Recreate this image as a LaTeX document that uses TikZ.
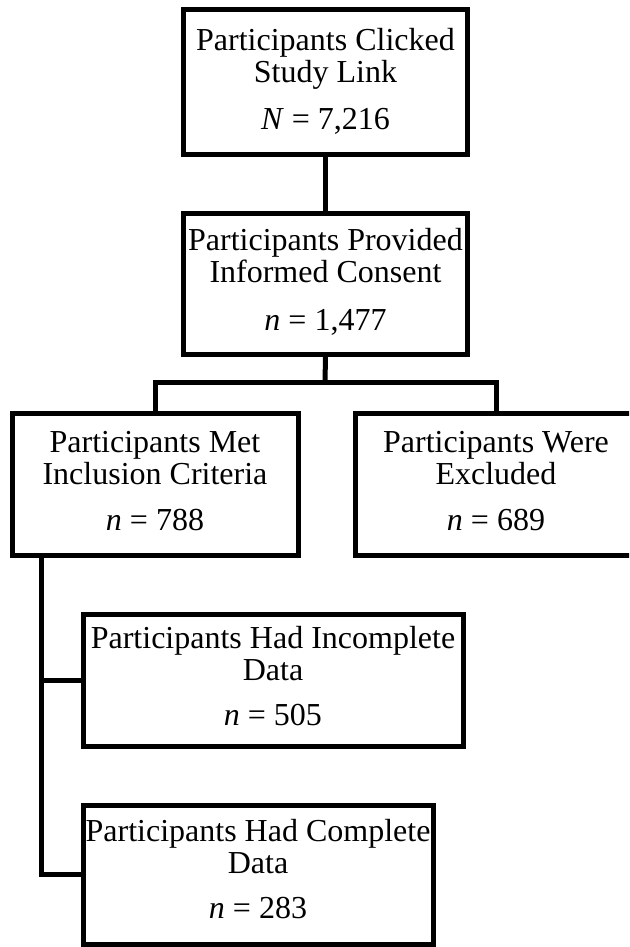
\documentclass[tikz,border=0pt]{standalone}
\usepackage{fontspec}
\setmainfont{Liberation Serif}
\begin{document}
\begin{tikzpicture}[x=0.5pt,y=-0.5pt,
  box/.style={draw=black, line width=2.5pt, rectangle, inner sep=0pt},
  lbl/.style={anchor=base, inner sep=0pt, font=\fontsize{16}{16}\selectfont},
  link/.style={draw=black, line width=2.5pt}]
\useasboundingbox (0,0) rectangle (629,947);
\clip (0,0) rectangle (629,947);
\fill[white] (0,0) rectangle (629,947);
% boxes
\node[box, minimum width=142pt, minimum height=72pt] (b1) at (325.5,82) {};
\node[box, minimum width=142pt, minimum height=70.5pt] (b2) at (325.5,283.5) {};
\node[box, minimum width=143pt, minimum height=71pt] (b3) at (155,484) {};
\node[box, minimum width=141pt, minimum height=71pt] (b4) at (496,484) {};
\node[box, minimum width=190pt, minimum height=66pt] (b5) at (273,680) {};
\node[box, minimum width=175pt, minimum height=69.5pt] (b6) at (258,874.5) {};
% texts
\node[lbl] (t1) at ([yshift=-21.5pt]b1.north) {\begin{tabular}[t]{@{}c@{}}Participants Clicked\\Study Link\\[7.5pt]\textit{N} = 7,216\end{tabular}};
\node[lbl] (t2) at ([yshift=-20pt]b2.north) {\begin{tabular}[t]{@{}c@{}}Participants Provided\\Informed Consent\\[8pt]\textit{n} = 1,477\end{tabular}};
\node[lbl] (t3) at ([yshift=-21pt]b3.north) {\begin{tabular}[t]{@{}c@{}}Participants Met\\Inclusion Criteria\\[7pt]\textit{n} = 788\end{tabular}};
\node[lbl] (t4) at ([yshift=-21pt]b4.north) {\begin{tabular}[t]{@{}c@{}}Participants Were\\Excluded\\[7pt]\textit{n} = 689\end{tabular}};
\node[lbl] (t5) at ([yshift=-18.5pt]b5.north) {\begin{tabular}[t]{@{}c@{}}Participants Had Incomplete\\Data\\[6.5pt]\textit{n} = 505\end{tabular}};
\node[lbl] (t6) at ([yshift=-19.5pt]b6.north) {\begin{tabular}[t]{@{}c@{}}Participants Had Complete\\Data\\[6.5pt]\textit{n} = 283\end{tabular}};
% connectors
\coordinate (j1) at (325,382);
\coordinate (c5) at (41,680);
\draw[link] (b1.south) -- (b2.north);
\draw[link] (b2.south) -- (j1);
\draw[link] (b3.north) |- (j1) -| (b4.north);
\draw[link] (b3.south -| c5) -- (b6.west -| c5) -- (b6.west);
\draw[link] (c5) -- (b5.west);
\end{tikzpicture}
\end{document}
